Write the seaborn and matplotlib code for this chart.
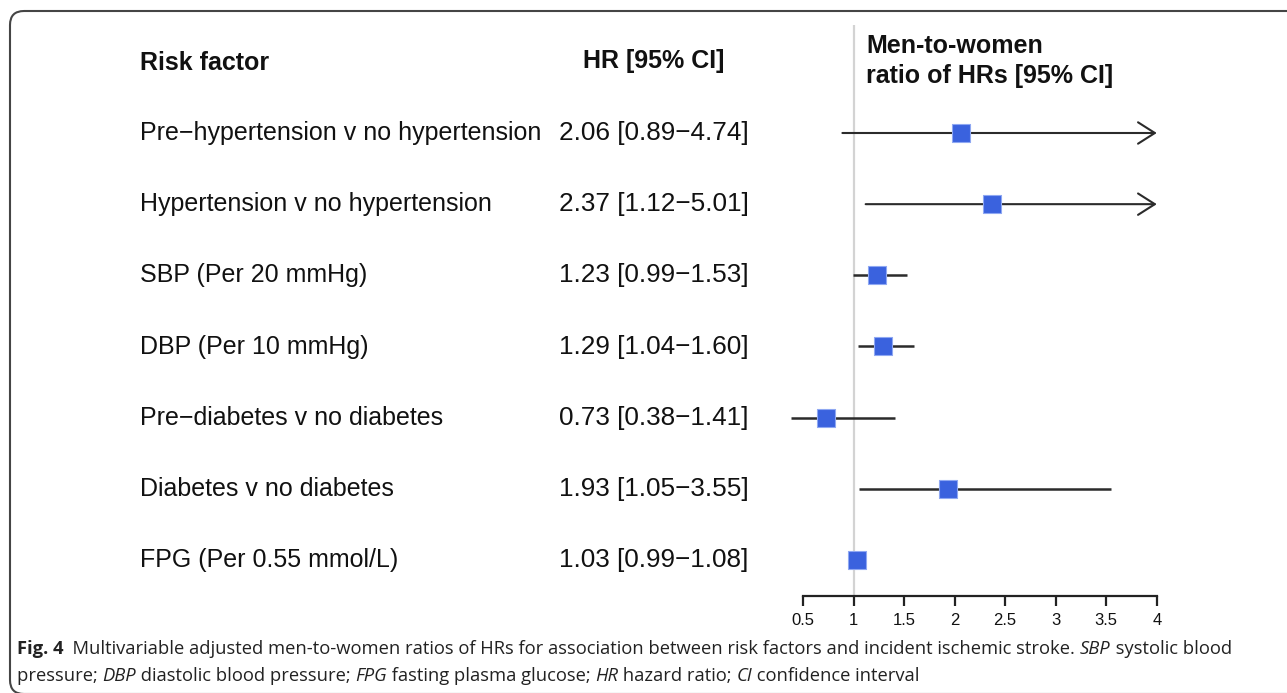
import matplotlib
matplotlib.use("Agg")
import matplotlib.pyplot as plt
from matplotlib import font_manager
from matplotlib.patches import FancyBboxPatch, FancyArrowPatch
from matplotlib.transforms import IdentityTransform
import seaborn as sns
import pandas as pd

# ---------------- data ----------------
risk_factors = [
    "Pre\u2212hypertension v no hypertension",
    "Hypertension v no hypertension",
    "SBP (Per 20 mmHg)",
    "DBP (Per 10 mmHg)",
    "Pre\u2212diabetes v no diabetes",
    "Diabetes v no diabetes",
    "FPG (Per 0.55 mmol/L)",
]
hr = [2.06, 2.37, 1.23, 1.29, 0.73, 1.93, 1.03]
ci_low = [0.89, 1.12, 0.99, 1.04, 0.38, 1.05, 0.99]
ci_high = [4.74, 5.01, 1.53, 1.60, 1.41, 3.55, 1.08]
x_ticks = [0.5, 1, 1.5, 2, 2.5, 3, 3.5, 4]
x_tick_labels = ["0.5", "1", "1.5", "2", "2.5", "3", "3.5", "4"]
axis_max = 4.0

df = pd.DataFrame({"factor": risk_factors, "hr": hr, "lo": ci_low, "hi": ci_high})
df["row"] = range(len(df))

# ---------------- style ----------------
sns.set_theme(style="white")
plt.rcParams["font.family"] = ["Liberation Sans", "DejaVu Sans"]

W, H = 1287, 693
fig = plt.figure(figsize=(W / 100, H / 100), dpi=100)

def fx(px):
    return px / W

def fy(py):
    return 1 - py / H

# frame (extends past right and bottom edges like the reference)
frame = FancyBboxPatch((10, -1), 1300, H - 10, boxstyle="round,pad=0,rounding_size=14",
                       transform=IdentityTransform(), fill=False, edgecolor="#454545",
                       linewidth=1.5)
fig.patches.append(frame)

# forest axes
x0, x1 = 0.25, 4.2
px_left, px_right = 777.7, 1177.0
top_px, bot_px = 25, 596
ax = fig.add_axes([fx(px_left), 1 - bot_px / H, fx(px_right - px_left), (bot_px - top_px) / H])
ax.set_facecolor("none")
ax.set_xlim(x0, x1)
row_gap = 71.17
ax.set_ylim(6 + (bot_px - 560) / row_gap, (top_px - 133) / row_gap)

ax.axvline(1, color="#d3d3d3", lw=1.6, zorder=1)

blue = "#3A62DE"
for _, r in df.iterrows():
    hi = min(r["hi"], axis_max)
    if r["hi"] > axis_max:
        arr = FancyArrowPatch((r["lo"], r["row"]), (axis_max, r["row"]),
                              arrowstyle="->,head_length=0.55,head_width=0.35",
                              mutation_scale=22, color="#2b2b2b", lw=1.5, zorder=2,
                              shrinkA=0, shrinkB=0)
        ax.add_patch(arr)
    else:
        ax.hlines(r["row"], r["lo"], hi, color="#2b2b2b", lw=1.8, zorder=2)

sns.scatterplot(data=df, x="hr", y="row", marker="s", s=150, color=blue,
                edgecolor="#8FA8F2", linewidth=0.8, ax=ax, legend=False, zorder=3)

for s in ["top", "right", "left"]:
    ax.spines[s].set_visible(False)
ax.spines["bottom"].set_bounds(0.5, 4)
ax.spines["bottom"].set_color("#222222")
ax.spines["bottom"].set_linewidth(1.6)
ax.set_xticks(x_ticks)
ax.set_xticklabels(x_tick_labels, fontsize=12, color="#111111")
ax.tick_params(axis="x", direction="out", length=7, width=1.6, color="#222222", pad=5,
               bottom=True)
ax.set_yticks([])
ax.set_xlabel("")
ax.set_ylabel("")

# ---------------- text columns ----------------
fac_size = 18.0
val_size = 18.8
hdr_size = 18.0
fig.text(fx(140), fy(63), "Risk factor", fontsize=hdr_size, fontweight="bold",
         ha="left", va="center", color="#111111")
fig.text(fx(583), fy(61), "HR [95% CI]", fontsize=hdr_size, fontweight="bold",
         ha="left", va="center", color="#111111")
fig.text(fx(866), fy(46), "Men-to-women", fontsize=hdr_size, fontweight="bold",
         ha="left", va="center", color="#111111")
fig.text(fx(866), fy(76), "ratio of HRs [95% CI]", fontsize=hdr_size, fontweight="bold",
         ha="left", va="center", color="#111111")

for i, r in df.iterrows():
    ypx = 133 + i * row_gap
    fig.text(fx(140), fy(ypx), r["factor"], fontsize=fac_size, ha="left", va="center",
             color="#111111")
    lab = f"{r['hr']:.2f} [{r['lo']:.2f}\u2212{r['hi']:.2f}]"
    fig.text(fx(559), fy(ypx), lab, fontsize=val_size, ha="left", va="center",
             color="#111111")

# ---------------- caption ----------------
avail = {f.name for f in font_manager.fontManager.ttflist}
cap_family = "Liberation Sans"
for cand in ["Liberation Sans Narrow", "DejaVu Sans Condensed", "Open Sans", "Roboto"]:
    if cand in avail:
        cap_family = cand
        break

renderer = fig.canvas.get_renderer()
line1 = [("Fig. 4", "bold"), ("  Multivariable adjusted men-to-women ratios of HRs for association "
          "between risk factors and incident ischemic stroke. ", "normal"),
         ("SBP", "italic"), (" systolic blood", "normal")]
line2 = [("pressure; ", "normal"), ("DBP", "italic"), (" diastolic blood pressure; ", "normal"),
         ("FPG", "italic"), (" fasting plasma glucose; ", "normal"), ("HR", "italic"),
         (" hazard ratio; ", "normal"), ("CI", "italic"), (" confidence interval", "normal")]

def draw_runs(xpx, ypx, parts, size, draw=True):
    x = xpx
    for text, sty in parts:
        kw = dict(fontsize=size, family=[cap_family, "DejaVu Sans"], ha="left",
                  va="center", color="#222222")
        if sty == "bold":
            kw["fontweight"] = "bold"
        elif sty == "italic":
            kw["fontstyle"] = "italic"
        t = fig.text(fx(x), fy(ypx), text.replace(" ", "\u00a0"), **kw)
        w = t.get_window_extent(renderer).width
        if not draw:
            t.remove()
        x += w
    return x - xpx

w_test = draw_runs(17, 648, line1, 10, draw=False)
cap_size = 10 * (1235 - 17) / w_test
draw_runs(17, 649, line1, cap_size)
draw_runs(17, 676, line2, cap_size)

fig.savefig("out.png", dpi=100)
